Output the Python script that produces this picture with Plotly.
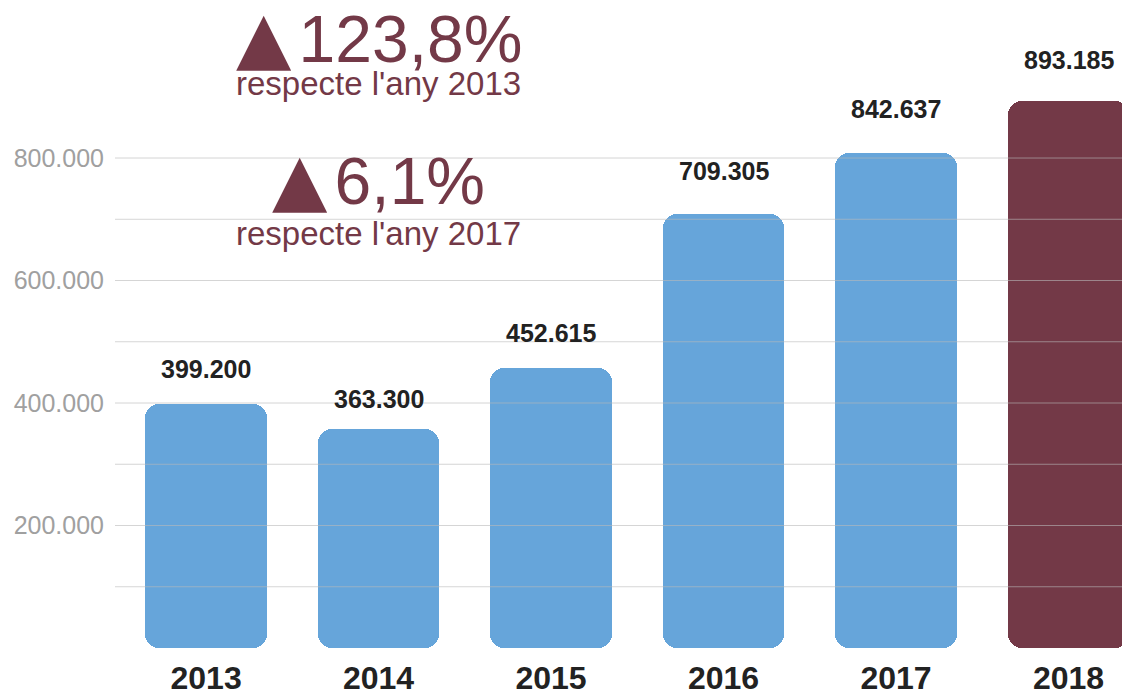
import plotly.graph_objects as go

years = ["2013", "2014", "2015", "2016", "2017", "2018"]
# bar heights as drawn in the picture
bar_values = [399200, 358000, 457000, 709305, 808000, 893185]
# printed value labels
value_labels = ["399.200", "363.300", "452.615", "709.305", "842.637", "893.185"]
y_tick_vals = [200000, 400000, 600000, 800000]
y_tick_text = ["200.000", "400.000", "600.000", "800.000"]
grid_vals = [100000, 200000, 300000, 400000, 500000, 600000, 700000, 800000]
headline1 = "123,8%"
sub1 = "respecte l'any 2013"
headline2 = "6,1%"
sub2 = "respecte l'any 2017"

# style: vertical offset (px) of each value label above its bar
label_shift = [35, 30, 35, 43, 44, 41]

BLUE = "#66a5da"
MAROON = "#733947"
colors = [BLUE] * (len(years) - 1) + [MAROON]
FONT = "Liberation Sans, Arial, sans-serif"
xpos = list(range(len(years)))

fig = go.Figure()
# upper part (rounded top)
fig.add_trace(go.Bar(
    x=xpos, y=[v * 0.6 for v in bar_values], base=[v * 0.4 for v in bar_values],
    marker=dict(color=colors, line=dict(width=0), cornerradius=14),
    width=0.705, showlegend=False, hoverinfo="skip"))
# lower part (rounded bottom)
fig.add_trace(go.Bar(
    x=xpos, y=[-v * 0.6 for v in bar_values], base=[v * 0.6 for v in bar_values],
    marker=dict(color=colors, line=dict(width=0), cornerradius=14),
    width=0.705, showlegend=False, hoverinfo="skip"))

# value labels
for i, v, lab, sh in zip(xpos, bar_values, value_labels, label_shift):
    fig.add_annotation(x=i, y=v, xref="x", yref="y", text="<b>" + lab + "</b>",
                       showarrow=False, yshift=sh,
                       font=dict(family=FONT, size=25, color="#222222"))

# gridlines above bars
for g in grid_vals:
    fig.add_shape(type="line", xref="paper", x0=0, x1=1, yref="y", y0=g, y1=g,
                  line=dict(color="rgba(185,185,185,0.6)", width=1), layer="above")

# headline annotations
tri = ("<span style='font-family:DejaVu Sans;font-size:72px'>▲</span>"
       "<span style='font-size:26px'> </span>")
head_x = xpos[1]
for txt, yp, sz in [(tri + headline1, 0.943, 66), (sub1, 0.871, 33),
                    (tri + headline2, 0.723, 66), (sub2, 0.640, 33)]:
    fig.add_annotation(x=head_x, xref="x", y=yp, yref="paper", text=txt,
                       showarrow=False, xanchor="center", yanchor="middle",
                       font=dict(family=FONT, size=sz, color=MAROON))

fig.update_layout(
    width=1122, height=691,
    margin=dict(l=115, r=0, t=0, b=43, autoexpand=False),
    paper_bgcolor="white", plot_bgcolor="white",
    barmode="overlay", bargap=0,
    xaxis=dict(range=[-0.528, 5.31], showgrid=False, zeroline=False,
               showline=False, ticks="", automargin=False,
               tickvals=xpos, ticktext=["<b>" + y + "</b>" for y in years],
               ticklabelstandoff=8,
               tickfont=dict(family=FONT, size=32, color="#222222")),
    yaxis=dict(range=[0, 1058000], showgrid=False, zeroline=False, showline=False,
               tickvals=y_tick_vals, ticktext=y_tick_text, ticks="", automargin=False,
               ticklabelstandoff=10,
               tickfont=dict(family=FONT, size=25, color="#a0a0a0")),
)

fig.write_html("out.html", config={"displayModeBar": False},
               post_script="document.body.style.margin='0';document.body.style.overflow='hidden';")
